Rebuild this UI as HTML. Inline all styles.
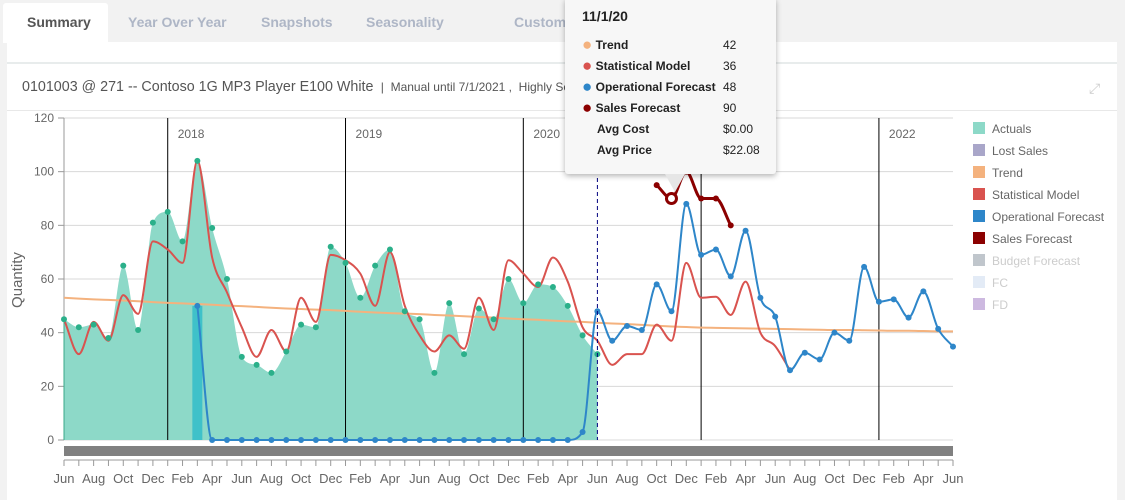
<!DOCTYPE html>
<html><head><meta charset="utf-8"><style>
body{margin:0;width:1125px;height:500px;background:#f2f2f2;font-family:"Liberation Sans",sans-serif;overflow:hidden;position:relative}
.tab{position:absolute;top:14px;font-size:14px;font-weight:bold;color:#aeb6c6}
#panel{position:absolute;left:7px;top:42px;width:1110px;height:458px;background:#fff}
svg{position:absolute;left:0;top:0}
.dot{font-size:17px;line-height:12px;vertical-align:-1px}
</style></head><body>
<div style="position:absolute;left:0;top:0;width:1125px;height:42px;background:#f2f2f2"></div>
<div style="position:absolute;left:3px;top:3px;width:105px;height:40px;background:#fff;border-radius:3px 3px 0 0"></div>
<div class="tab" style="left:27px;color:#555">Summary</div>
<div class="tab" style="left:128px">Year Over Year</div>
<div class="tab" style="left:261px">Snapshots</div>
<div class="tab" style="left:366px">Seasonality</div>
<div class="tab" style="left:514px">Customers</div>
<div class="tab" style="left:620px">Current Period</div>
<div id="panel"></div>
<div style="position:absolute;left:7px;top:62px;width:1110px;height:2px;background:#e8ecec"></div>
<div style="position:absolute;left:22px;top:79px;font-size:14.3px;color:#555;white-space:nowrap">0101003 @ 271 -- Contoso 1G MP3 Player E100 White <span style="font-size:12px">&nbsp;|&nbsp; Manual until 7/1/2021 ,&nbsp; Highly Seasonal , Forecasted Growth: 24%</span></div>
<div style="position:absolute;left:1089px;top:80px;font-size:14px;color:#ccc">⤢</div>
<div style="position:absolute;left:7px;top:110px;width:1110px;height:1px;background:#e8e8e8"></div>
<svg id="c" width="1125" height="500"></svg>
<script>
const months=["Jun","Jul","Aug","Sep","Oct","Nov","Dec","Jan","Feb","Mar","Apr","May"];
const yTicks=[0,20,40,60,80,100,120];
const years=["2018","2019","2020","2021","2022"];
const actuals=[45,42,43,38,65,41,81,85,74,104,79,60,31,28,25,33,43,42,72,66,53,65,71,48,45,25,51,32,49,45,60,51,58,57,50,39,32];
const opStart=9;
const opForecast=[50,0,0,0,0,0,0,0,0,0,0,0,0,0,0,0,0,0,0,0,0,0,0,0,0,0,3,48,37,42.5,41,58,48,88,69,71,61,78,53,46,26,32.5,30,40,37,64.5,51.5,52.4,45.6,55.4,41.4,34.8];
const statModel=[45,32,44,37,54,47,74,71,66,104,68,55,42,31,41,33,53,44,69,67,62,50,70,50,39,33,39,34,53,41,67,62,57,68,59,42,37,28,32,32,43,37,66,53,53.4,46.6,59,40,35,26];
const trend=[53,52.7,52.4,52.2,52,51.7,51.4,51.1,50.9,50.7,50.4,50.1,49.9,49.6,49.3,49,48.8,48.6,48.4,48.1,47.8,47.5,47.3,47.1,46.9,46.6,46.4,46.1,45.9,45.6,45.3,45,44.8,44.5,44.2,44,43.7,43.4,43.2,42.9,42.6,42.3,42.1,41.9,41.8,41.7,41.6,41.5,41.4,41.3,41.2,41.1,41,41,40.9,40.8,40.7,40.7,40.6,40.5,40.5];
const salesStart=40;
const salesForecast=[95,90,100,90,90,80];
const lostSalesMonth=9, lostSales=[50];
const hoverMonth=41, hoverValue=90;

const X0=64,X1=953,Y0=440,Y1=118;
const x=m=>X0+(X1-X0)*m/60;
const y=v=>Y0-(Y0-Y1)*v/120;
const NS="http://www.w3.org/2000/svg";
const svg=document.getElementById('c');
function el(t,a,p){const e=document.createElementNS(NS,t);for(const k in a)e.setAttribute(k,a[k]);(p||svg).appendChild(e);return e;}
function spline(pts){const n=pts.length;const d=[],m=[];
 for(let i=0;i<n-1;i++)d.push((pts[i+1][1]-pts[i][1])/(pts[i+1][0]-pts[i][0]));
 for(let i=0;i<n;i++){if(i===0)m.push(d[0]);else if(i===n-1)m.push(d[n-2]);else m.push(d[i-1]*d[i]<=0?0:(d[i-1]+d[i])/2);}
 for(let i=0;i<n-1;i++){if(d[i]===0){m[i]=0;m[i+1]=0;continue;}const a=m[i]/d[i],b=m[i+1]/d[i],s=a*a+b*b;if(s>9){const t=3/Math.sqrt(s);m[i]=t*a*d[i];m[i+1]=t*b*d[i];}}
 let p=`M${pts[0][0]},${pts[0][1]}`;
 for(let i=0;i<n-1;i++){const h=(pts[i+1][0]-pts[i][0])/3;p+=` C${pts[i][0]+h},${pts[i][1]+m[i]*h} ${pts[i+1][0]-h},${pts[i+1][1]-m[i+1]*h} ${pts[i+1][0]},${pts[i+1][1]}`;}
 return p;}
yTicks.forEach(v=>{
 let g=el('line',{x1:X0,x2:X1,y1:y(v),y2:y(v),stroke:'#d8d8d8'});
 
 let tk=el('line',{x1:X0-6,x2:X0,y1:y(v),y2:y(v),stroke:'#999'});
 
 let t=el('text',{x:X0-10,y:y(v)+4,'text-anchor':'end','font-size':12,fill:'#666'});t.textContent=v;
 
});
let ya=el('line',{x1:X0,x2:X0,y1:Y1,y2:Y0,stroke:'#999'});
let yt=el('text',{x:0,y:0,transform:`translate(22,280) rotate(-90)`,'text-anchor':'middle','font-size':15,fill:'#666'});yt.textContent='Quantity';

const ap=actuals.map((v,i)=>[x(i),y(v)]);
let area=el('path',{d:spline(ap)+` L${x(actuals.length-1)},${Y0} L${x(0)},${Y0} Z`,fill:'#8dd9c8',stroke:'none'});

let al=el('line',{x1:X0,x2:X0,y1:y(actuals[0]),y2:Y0,stroke:'#3aa88a'});
lostSales.forEach(v=>{let b=el('rect',{x:x(lostSalesMonth)-5,y:y(v),width:10,height:Y0-y(v),fill:'#3fc1c9'});
});
years.forEach((yr,i)=>{const m=7+12*i;let l=el('line',{x1:x(m),x2:x(m),y1:Y1,y2:Y0,stroke:'#000'});

let t=el('text',{x:x(m)+10,y:138,'font-size':12,fill:'#666'});t.textContent=yr;});
let tr=el('path',{d:spline(trend.map((v,i)=>[x(i),y(v)])),fill:'none',stroke:'#f4b27e','stroke-width':2});

let sm=el('path',{d:spline(statModel.map((v,i)=>[x(i),y(v)])),fill:'none',stroke:'#d9534f','stroke-width':2});

const op=opForecast.map((v,i)=>[x(i+opStart),y(v)]);
let ol=el('path',{d:spline(op),fill:'none',stroke:'#2e86c9','stroke-width':2});

ap.forEach(p=>{let c=el('circle',{cx:p[0],cy:p[1],r:3,fill:'#2bb08a'});});
op.forEach(p=>{let c=el('circle',{cx:p[0],cy:p[1],r:3,fill:'#2e86c9'});});
const sp=salesForecast.map((v,i)=>[x(i+salesStart),y(v)]);
let sl=el('path',{d:spline(sp),fill:'none',stroke:'#8b0000','stroke-width':3});

sp.forEach(p=>{let c=el('circle',{cx:p[0],cy:p[1],r:3,fill:'#8b0000'});});
let hv=el('circle',{cx:x(hoverMonth),cy:y(hoverValue),r:5,fill:'#fff',stroke:'#8b0000','stroke-width':3});

let cp=el('line',{x1:x(36),x2:x(36),y1:Y1+60,y2:Y0,stroke:'#000080','stroke-dasharray':'4,3'});

let nb=el('rect',{x:X0,y:446,width:X1-X0,height:10,fill:'#808080'});
let xa=el('line',{x1:X0,x2:X1,y1:460,y2:460,stroke:'#999'});
for(let m=0;m<=60;m++){let t=el('line',{x1:x(m),x2:x(m),y1:460,y2:466,stroke:'#999'});
 if(m%2===0){let l=el('text',{x:x(m),y:483,'text-anchor':'middle','font-size':13,fill:'#666'});l.textContent=months[m%12];}}
const legNames=["Actuals","Lost Sales","Trend","Statistical Model","Operational Forecast","Sales Forecast","Budget Forecast","FC","FD"];
const legColors=["#8dd9c8","#a9a6c9","#f4b27e","#d9534f","#2e86c9","#8b0000","#c0c6cc","#e3ebf6","#cdb9e0"];
legNames.forEach((n,i)=>{const yy=128+22*i;let r=el('rect',{x:973,y:yy-6,width:12,height:12,fill:legColors[i]});

let t=el('text',{x:992,y:yy+5,'font-size':12,fill:i>=6?'#ccc':'#666'});t.textContent=n;});
</script>
<div style="position:absolute;left:565px;top:-2px;width:211px;height:176px;background:#f7f7f7;box-shadow:0 2px 6px rgba(0,0,0,.3);border-radius:3px;font-size:12px;font-weight:bold;color:#222">
 <div style="position:absolute;left:100px;top:176px;width:0;height:0;border-left:10px solid transparent;border-right:10px solid transparent;border-top:18px solid #e6e6e6"></div>
 <div style="position:absolute;left:17px;top:10px;font-size:14px">11/1/20</div>
 <div style="position:absolute;left:17px;top:37px;line-height:21px">
  <div><span class="dot" style="color:#f4b27e">●</span> Trend</div><div><span class="dot" style="color:#d9534f">●</span> Statistical Model</div><div><span class="dot" style="color:#2e86c9">●</span> Operational Forecast</div><div><span class="dot" style="color:#8b0000">●</span> Sales Forecast</div><div style="padding-left:15px">Avg Cost</div><div style="padding-left:15px">Avg Price</div>
 </div>
 <div style="position:absolute;left:158px;top:37px;line-height:21px;font-weight:normal"><div>42</div><div>36</div><div>48</div><div>90</div><div>$0.00</div><div>$22.08</div></div>
</div>
</body></html>
